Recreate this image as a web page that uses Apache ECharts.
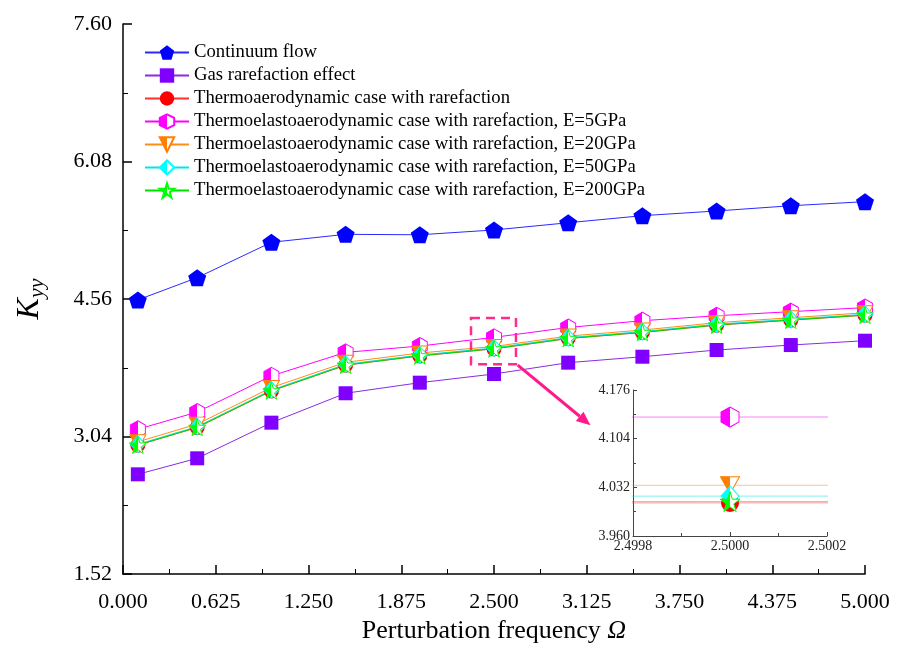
<!DOCTYPE html>
<html>
<head>
<meta charset="utf-8">
<script src="https://cdn.jsdelivr.net/npm/echarts@6/dist/echarts.min.js"></script>
<style>
  html, body { margin: 0; padding: 0; background: #fff; }
  #chart { width: 900px; height: 659px; }
</style>
</head>
<body>
<div id="chart"></div>
<script>
// perturbation frequency
const omega = [0.1, 0.5, 1.0, 1.5, 2.0, 2.5, 3.0, 3.5, 4.0, 4.5, 5.0]

const continuumFlow = [4.55, 4.796, 5.187, 5.275, 5.27, 5.323, 5.403, 5.481, 5.533, 5.591, 5.636]
const gasRarefaction = [2.622, 2.799, 3.193, 3.518, 3.635, 3.731, 3.856, 3.922, 3.996, 4.051, 4.099]
const thermoRarefaction = [2.944, 3.14, 3.544, 3.828, 3.931, 4.009, 4.123, 4.19, 4.271, 4.326, 4.381]
const elastoE5 = [3.12, 3.31, 3.71, 3.97, 4.04, 4.136, 4.245, 4.32, 4.375, 4.42, 4.465]
const elastoE20 = [2.981, 3.177, 3.581, 3.86, 3.963, 4.035, 4.15, 4.217, 4.298, 4.353, 4.408]
const elastoE50 = [2.954, 3.15, 3.554, 3.838, 3.941, 4.019, 4.133, 4.2, 4.281, 4.336, 4.391]
const elastoE200 = [2.946, 3.142, 3.546, 3.83, 3.933, 4.011, 4.125, 4.192, 4.273, 4.328, 4.383]

const names = [
    'Continuum flow',
    'Gas rarefaction effect',
    'Thermoaerodynamic case with rarefaction',
    'Thermoelastoaerodynamic case with rarefaction, E=5GPa',
    'Thermoelastoaerodynamic case with rarefaction, E=20GPa',
    'Thermoelastoaerodynamic case with rarefaction, E=50GPa',
    'Thermoelastoaerodynamic case with rarefaction, E=200GPa'
]

const yTicks = { min: 1.52, max: 7.6, step: 1.52 }
const xTicks = { min: 0, max: 5, step: 0.625 }

const FONT = '"Liberation Serif", "DejaVu Serif", serif'

const pentagon = 'path://M0,-1L0.951,-0.309L0.588,0.809L-0.588,0.809L-0.951,-0.309Z'
const hexagon = 'path://M0,-1L0.866,-0.5L0.866,0.5L0,1L-0.866,0.5L-0.866,-0.5Z'
const triDown = 'path://M-1,-0.85L1,-0.85L0,0.9Z'
const star = 'path://M0,-1L0.2245,-0.309L0.951,-0.309L0.363,0.118L0.588,0.809L0,0.382L-0.588,0.809L-0.363,0.118L-0.951,-0.309L-0.2245,-0.309Z'

const halfFill = (c) => ({
    type: 'linear', x: 0, y: 0, x2: 1, y2: 0,
    colorStops: [
        { offset: 0, color: c }, { offset: 0.5, color: c },
        { offset: 0.5, color: '#fff' }, { offset: 1, color: '#fff' }
    ]
})

const pairs = (ys) => ys.map((v, i) => [omega[i], v])

// style for each curve
const curves = [
    { name: names[0], data: continuumFlow, color: '#0000ff', line: '#2a2aff', symbol: pentagon, size: [18, 17], half: false },
    { name: names[1], data: gasRarefaction, color: '#8000ff', line: '#8a2be2', symbol: 'rect', size: 14, half: false },
    { name: names[2], data: thermoRarefaction, color: '#ff0000', line: '#ff3030', symbol: 'circle', size: 15, half: false },
    { name: names[3], data: elastoE5, color: '#ff00ff', line: '#ff00ff', symbol: hexagon, size: [15, 17], half: true },
    { name: names[4], data: elastoE20, color: '#ff7f00', line: '#ff8c1a', symbol: triDown, size: [16, 14], half: true },
    { name: names[5], data: elastoE50, color: '#00ffff', line: '#00e5e5', symbol: 'diamond', size: [15, 17], half: true },
    { name: names[6], data: elastoE200, color: '#00ff00', line: '#00e000', symbol: star, size: 17, half: true }
]

const makeSeries = (c, inset) => ({
    name: c.name,
    type: 'line',
    xAxisIndex: inset ? 1 : 0,
    yAxisIndex: inset ? 1 : 0,
    data: pairs(c.data),
    symbol: c.symbol,
    symbolSize: inset ? (Array.isArray(c.size) ? c.size.map(s => s + 3) : c.size + 3) : c.size,
    showAllSymbol: true,
    clip: true,
    animation: false,
    lineStyle: { color: c.line, width: 1, opacity: inset ? 0.5 : 1 },
    itemStyle: c.half
        ? { color: halfFill(c.color), borderColor: c.color, borderWidth: 1 }
        : { color: c.color, borderWidth: 0 },
    emphasis: { disabled: true }
})

const series = curves.map(c => makeSeries(c, false))
    .concat(curves.slice(2).map(c => makeSeries(c, true)))

const chart = echarts.init(document.getElementById('chart'), null, { renderer: 'canvas' })

chart.setOption({
    backgroundColor: '#fff',
    animation: false,
    textStyle: { fontFamily: FONT },
    legend: {
        data: names,
        left: 139,
        top: 38,
        orient: 'vertical',
        itemWidth: 44,
        itemHeight: 18,
        itemGap: 4,
        textStyle: { fontFamily: FONT, fontSize: 18.7, color: '#000', lineHeight: 19 },
        selectedMode: false
    },
    grid: [
        { left: 123, right: 35, top: 24, bottom: 85 },
        { left: 633, right: 73, top: 390, bottom: 123 }
    ],
    xAxis: [
        {
            type: 'value',
            gridIndex: 0,
            min: xTicks.min, max: xTicks.max, interval: xTicks.step,
            name: 'Perturbation frequency {i|Ω}',
            nameLocation: 'middle',
            nameGap: 42,
            nameTextStyle: {
                fontFamily: FONT, fontSize: 26, color: '#000',
                rich: { i: { fontFamily: FONT, fontSize: 26, fontStyle: 'italic', color: '#000' } }
            },
            axisLine: { lineStyle: { color: '#000', width: 1.5 } },
            axisTick: { inside: true, length: 9, lineStyle: { color: '#000', width: 1.5 } },
            minorTick: { show: true, splitNumber: 2, length: 5, lineStyle: { color: '#000', width: 1 } },
            axisLabel: { fontFamily: FONT, fontSize: 22, color: '#000', margin: 17, formatter: v => v.toFixed(3) },
            splitLine: { show: false }
        },
        {
            type: 'value',
            gridIndex: 1,
            min: 2.4998, max: 2.5002, interval: 0.0002,
            axisLine: { lineStyle: { color: '#444', width: 1 } },
            axisTick: { inside: true, length: 4, lineStyle: { color: '#444' } },
            minorTick: { show: true, splitNumber: 2, length: 3, lineStyle: { color: '#444' } },
            axisLabel: { fontFamily: FONT, fontSize: 14, color: '#222', margin: 3, formatter: v => v.toFixed(4) },
            splitLine: { show: false }
        }
    ],
    yAxis: [
        {
            type: 'value',
            gridIndex: 0,
            min: yTicks.min, max: yTicks.max, interval: yTicks.step,
            name: '{k|K}{s|yy}',
            nameLocation: 'middle',
            nameGap: 75,
            nameTextStyle: {
                rich: {
                    k: { fontFamily: FONT, fontSize: 32, fontStyle: 'italic', color: '#000' },
                    s: { fontFamily: FONT, fontSize: 22, fontStyle: 'italic', color: '#000', padding: [14, 0, 0, 0] }
                }
            },
            axisLine: { show: true, lineStyle: { color: '#000', width: 1.5 } },
            axisTick: { show: true, inside: true, length: 9, lineStyle: { color: '#000', width: 1.5 } },
            minorTick: { show: true, splitNumber: 2, length: 5, lineStyle: { color: '#000', width: 1 } },
            axisLabel: { fontFamily: FONT, fontSize: 22, color: '#000', margin: 11, formatter: v => v.toFixed(2) },
            splitLine: { show: false }
        },
        {
            type: 'value',
            gridIndex: 1,
            min: 3.96, max: 4.176, interval: 0.072,
            axisLine: { show: true, lineStyle: { color: '#444', width: 1 } },
            axisTick: { show: true, inside: true, length: 4, lineStyle: { color: '#444' } },
            minorTick: { show: true, splitNumber: 2, length: 3, lineStyle: { color: '#444' } },
            axisLabel: { fontFamily: FONT, fontSize: 14, color: '#222', margin: 3, formatter: v => v.toFixed(3) },
            splitLine: { show: false }
        }
    ],
    series: series
})

// zoom box around omega = 2.5 and the arrow pointing to the inset
const boxA = chart.convertToPixel({ xAxisIndex: 0, yAxisIndex: 0 }, [2.345, 4.35])
const boxB = chart.convertToPixel({ xAxisIndex: 0, yAxisIndex: 0 }, [2.648, 3.84])
const arrowFrom = chart.convertToPixel({ xAxisIndex: 0, yAxisIndex: 0 }, [2.66, 3.83])
const arrowTo = chart.convertToPixel({ xAxisIndex: 0, yAxisIndex: 0 }, [3.15, 3.165])

const ang = Math.atan2(arrowTo[1] - arrowFrom[1], arrowTo[0] - arrowFrom[0])
const headLen = 14, headW = 6
const baseX = arrowTo[0] - headLen * Math.cos(ang)
const baseY = arrowTo[1] - headLen * Math.sin(ang)

chart.setOption({
    graphic: [
        {
            type: 'rect',
            shape: { x: boxA[0], y: boxA[1], width: boxB[0] - boxA[0], height: boxB[1] - boxA[1] },
            style: { fill: 'none', stroke: '#ff2d8a', lineWidth: 2.5, lineDash: [9, 6] },
            z: 10
        },
        {
            type: 'line',
            shape: { x1: arrowFrom[0], y1: arrowFrom[1], x2: baseX, y2: baseY },
            style: { stroke: '#ff1a8c', lineWidth: 3 },
            z: 10
        },
        {
            type: 'polygon',
            shape: {
                points: [
                    arrowTo,
                    [baseX + headW * Math.sin(ang), baseY - headW * Math.cos(ang)],
                    [baseX - headW * Math.sin(ang), baseY + headW * Math.cos(ang)]
                ]
            },
            style: { fill: '#ff1a8c' },
            z: 10
        }
    ]
})
</script>
</body>
</html>
